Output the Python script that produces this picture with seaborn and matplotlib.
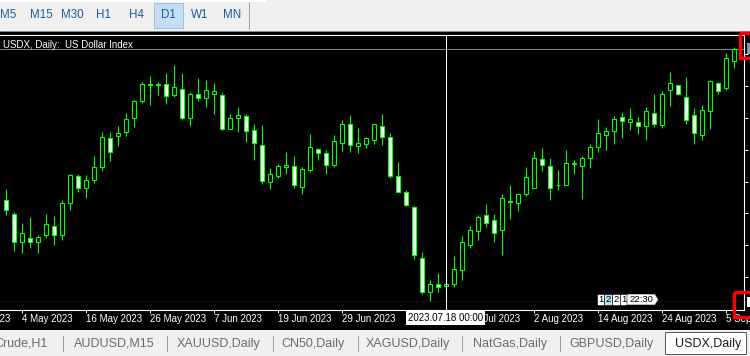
import numpy as np
import pandas as pd
import matplotlib
matplotlib.use("Agg")
import matplotlib.pyplot as plt
import seaborn as sns
from matplotlib.patches import Rectangle, Polygon

# ---------------- data (USDX daily candles) ----------------
dates = pd.bdate_range("2023-05-02", "2023-09-06")

opens = [101.99, 101.72, 101.15, 101.23, 101.17, 101.31, 101.49, 101.29, 101.93, 102.49,
         102.25, 102.41, 102.67, 103.23, 103.29, 103.37, 103.65, 103.99, 104.31, 104.31,
         104.33, 104.11, 104.23, 103.65, 104.11, 104.05, 104.13, 104.11, 103.43, 103.65,
         103.67, 103.41, 103.09, 102.37, 102.49, 102.67, 102.69, 102.27, 102.61, 103.02,
         102.93, 102.71, 103.15, 103.52, 103.09, 103.13, 103.21, 103.49, 103.27, 102.49,
         102.15, 101.86, 100.83, 100.17, 100.31, 100.28, 100.33, 100.61, 101.11, 101.39,
         101.69, 101.59, 101.41, 101.97, 101.93, 102.13, 102.25, 102.81, 102.67, 102.30,
         102.31, 102.73, 102.69, 102.85, 103.07, 103.31, 103.39, 103.65, 103.57, 103.57,
         103.49, 103.73, 103.51, 104.21, 104.29, 104.07, 103.71, 103.31, 103.79, 104.34,
         104.24, 104.79]
highs = [102.22, 101.77, 101.54, 101.66, 101.29, 101.72, 101.68, 102.00, 102.52, 102.53,
         102.50, 102.88, 103.36, 103.36, 103.48, 103.74, 104.00, 104.37, 104.48, 104.36,
         104.54, 104.70, 104.54, 104.16, 104.44, 104.40, 104.34, 104.14, 103.72, 103.86,
         103.72, 103.52, 103.50, 102.64, 102.73, 102.96, 102.88, 102.67, 103.32, 103.05,
         103.00, 103.30, 103.60, 103.70, 103.45, 103.26, 103.52, 103.72, 103.34, 102.76,
         102.20, 101.88, 100.96, 100.40, 100.54, 100.46, 100.88, 101.28, 101.49, 101.70,
         101.92, 101.72, 102.12, 102.30, 102.13, 102.66, 102.98, 103.04, 102.84, 102.60,
         103.00, 102.80, 102.88, 103.12, 103.62, 103.46, 103.69, 103.76, 103.84, 103.67,
         103.86, 104.12, 104.19, 104.56, 104.30, 104.46, 103.84, 103.90, 104.40, 104.37,
         104.94, 105.07]
lows = [101.71, 100.99, 100.93, 101.05, 100.95, 101.25, 101.11, 101.21, 101.79, 102.17,
        102.05, 102.35, 102.59, 102.78, 103.08, 103.28, 103.46, 103.94, 103.90, 104.10,
        103.92, 104.06, 103.60, 103.48, 103.99, 103.86, 103.72, 103.40, 103.42, 103.37,
        103.17, 102.80, 102.33, 102.23, 102.45, 102.52, 102.25, 102.13, 102.56, 102.80,
        102.52, 102.66, 102.98, 102.96, 102.93, 103.05, 103.13, 103.10, 102.45, 102.16,
        101.89, 100.83, 100.12, 99.98, 100.15, 100.00, 100.27, 100.41, 101.04, 101.20,
        101.47, 101.16, 100.90, 101.62, 101.78, 102.08, 102.24, 102.58, 102.00, 102.20,
        102.30, 102.52, 102.03, 102.64, 102.96, 103.01, 103.13, 103.25, 103.41, 103.33,
        103.21, 103.47, 103.44, 103.89, 104.11, 103.53, 103.13, 103.21, 103.42, 104.13,
        104.21, 104.64]
closes = [101.79, 101.17, 101.33, 101.15, 101.27, 101.51, 101.31, 101.93, 102.49, 102.25,
          102.41, 102.65, 103.27, 102.97, 103.35, 103.63, 103.99, 104.31, 104.30, 104.30,
          104.09, 104.27, 103.65, 104.12, 104.05, 104.19, 104.18, 103.43, 103.65, 103.71,
          103.39, 103.15, 102.39, 102.51, 102.67, 102.71, 102.31, 102.61, 103.07, 102.95,
          102.71, 103.18, 103.52, 103.11, 103.14, 103.24, 103.51, 103.27, 102.49, 102.17,
          101.91, 100.91, 100.15, 100.33, 100.27, 100.31, 100.63, 101.16, 101.39, 101.65,
          101.55, 101.35, 102.03, 101.96, 102.12, 102.46, 102.84, 102.71, 102.25, 102.29,
          102.75, 102.74, 102.85, 103.07, 103.33, 103.39, 103.62, 103.59, 103.62, 103.49,
          103.77, 103.53, 104.13, 104.34, 104.13, 103.61, 103.35, 103.79, 104.38, 104.19,
          104.85, 105.03]

tick_dates = ["2023-05-04", "2023-05-16", "2023-05-26", "2023-06-07", "2023-06-19",
              "2023-06-29", "2023-07-11", "2023-07-21", "2023-08-02", "2023-08-14",
              "2023-08-24", "2023-09-05"]
tick_labels = ["4 May 2023", "16 May 2023", "26 May 2023", "7 Jun 2023", "19 Jun 2023",
               "29 Jun 2023", "11 Jul 2023", "21 Jul 2023", "2 Aug 2023", "14 Aug 2023",
               "24 Aug 2023", "5 Sep 2023"]
early_label = "24 Apr 2023"           # label 6 bars before the first visible bar
price_ticks = [104.93, 104.29, 103.65, 103.01, 102.37, 101.74, 101.10, 100.46]
cross_date = "2023-07-18"
cross_label = "2023.07.18 00:00"
title = "USDX, Daily:  US Dollar Index"
toolbar = ["M5", "M15", "M30", "H1", "H4", "D1", "W1", "MN"]
active_period = "D1"
tabs = ["Crude,H1", "AUDUSD,M15", "XAUUSD,Daily", "CN50,Daily", "XAGUSD,Daily",
        "NatGas,Daily", "GBPUSD,Daily", "USDX,Daily"]
timer_boxes = ["1", "2", "2", "1", "22:30"]

# ---------------- styling ----------------
sns.set_theme(style="dark", rc={"axes.facecolor": "black", "figure.facecolor": "black"})
plt.rcParams["font.family"] = ["Liberation Sans", "DejaVu Sans"]
GREEN = "#00FF00"
PX = 0.72  # one pixel in points

W, H = 750, 356
fig = plt.figure(figsize=(7.5, 3.56), dpi=100)
fig.patch.set_facecolor("black")


def fy(py):
    return 1 - py / H


ax = fig.add_axes([0, fy(302), 744 / W, (302 - 34.5) / H])
ax_t = fig.add_axes([0, fy(310), 744 / W, 8 / H], sharex=ax)

df = pd.DataFrame({"date": dates, "open": opens, "high": highs, "low": lows, "close": closes})
df["idx"] = np.arange(len(df))
df["bull"] = df["close"] >= df["open"]
df["body_lo"] = np.minimum(df["open"], df["close"])
df["height"] = np.maximum((df["close"] - df["open"]).abs(), 0.012)

# wicks
ax.vlines(df["idx"], df["low"], df["high"], color=GREEN, lw=PX * 1.1, zorder=1)
# bodies
sns.barplot(data=df, x="idx", y="height", native_scale=True, errorbar=None,
            color="black", width=0.5, bottom=df["body_lo"].to_numpy(),
            facecolor=np.where(df["bull"], "black", "white").tolist(),
            edgecolor=GREEN, linewidth=PX * 1.1, ax=ax, zorder=2)
for p, b in zip(ax.patches, df["bull"]):
    p.set_facecolor("black" if b else "white")

ax.set_xlabel("")
ax.set_ylabel("")
ax.grid(False)
ax.set_facecolor("black")
ax.set_ylim(99.96, 105.31)
ax.set_xlim(-5.5 / 8, (744 - 5.5) / 8)

# bid line + price label
ax.axhline(closes[-1], color="#778899", lw=PX, zorder=0.5)
ax.add_patch(Rectangle((1.0035, closes[-1] - 0.11), 0.02, 0.22, transform=ax.get_yaxis_transform(),
                       facecolor="#8496aa", edgecolor="none", clip_on=False, zorder=5))

for s in ["top", "bottom", "right"]:
    ax.spines[s].set_color("white")
    ax.spines[s].set_linewidth(PX * 1.1)
ax.spines["left"].set_visible(False)
ax.tick_params(axis="x", bottom=False, labelbottom=False)
ax.yaxis.tick_right()
ax.set_yticks(price_ticks)
ax.tick_params(axis="y", right=True, left=False, direction="out", length=3, width=PX,
               color="white", labelright=False, labelleft=False)

# time scale
ax_t.set_facecolor("black")
ax_t.set_yticks([])
for s in ["top", "left"]:
    ax_t.spines[s].set_visible(False)
for s in ["bottom", "right"]:
    ax_t.spines[s].set_color("white")
    ax_t.spines[s].set_linewidth(PX * 1.1)
pos = [dates.get_loc(pd.Timestamp(d)) for d in tick_dates]
ax_t.set_xticks(pos)
ax_t.set_xticklabels(tick_labels, ha="left")
ax_t.tick_params(axis="x", bottom=True, direction="out", length=2.2, width=PX, colors="white",
                 labelsize=7, pad=1.0)
ax_t.set_xlim(-5.5 / 8, (744 - 5.5) / 8)
ax_t.text(pos[0] - 8, -0.55, early_label, transform=ax_t.get_xaxis_transform(), ha="left",
          va="top", color="white", fontsize=7, clip_on=False)

# crosshair
ci = dates.get_loc(pd.Timestamp(cross_date))
ax.axvline(ci, color="white", lw=PX, zorder=4)
ax_t.axvline(ci, color="white", lw=PX, zorder=4)
ax_t.text(ci, -1.0, cross_label, transform=ax_t.get_xaxis_transform(), ha="center", va="center",
          fontsize=7, color="black", zorder=6, clip_on=False,
          bbox=dict(boxstyle="square,pad=0.2", fc="white", ec="none"))

# ---------------- overlay (window chrome) ----------------
ov = fig.add_axes([0, 0, 1, 1], zorder=10)
ov.set_xlim(0, W)
ov.set_ylim(H, 0)
ov.axis("off")
ov.patch.set_alpha(0)

# toolbar
ov.add_patch(Rectangle((0, 0), W, 30.5, fc="#F0F0F0", ec="none"))
ov.add_patch(Rectangle((0, 0), 266, 1.5, fc="white", ec="none"))
ov.plot([0, W], [30.5, 30.5], color="#8a8a8a", lw=PX)
ov.add_patch(Rectangle((153.5, 2.5), 29, 25, fc="#C6DEF3", ec="#92C5EE", lw=PX))
tb_x = [8.5, 41, 72.5, 103.5, 137, 168, 199.5, 232.5]
for lab, x in zip(toolbar, tb_x):
    ov.text(x, 15.5, lab, ha="center", va="center", fontsize=8.4, color="#1F5C9E")
ov.plot([248.5, 248.5], [2, 29], color="#A0A0A0", lw=PX)

# title
ov.text(3, 45, title, ha="left", va="center", fontsize=7, color="white")

# timer boxes
bx = [(597, 604), (604, 612), (612, 620), (620, 627)]
fills = ["white", "#B9E3EE", "white", "white"]
for (a, b), lab, fc in zip(bx, timer_boxes[:4], fills):
    ov.add_patch(Rectangle((a, 294), b - a, 11, fc=fc, ec="black", lw=0.4, zorder=3))
    ov.text((a + b) / 2, 299.8, lab, ha="center", va="center", fontsize=6.8, color="black", zorder=4)
ov.add_patch(Polygon([(627, 294), (655, 294), (658.5, 299.5), (655, 305), (627, 305)],
                     closed=True, fc="white", ec="black", lw=0.4, zorder=3))
ov.text(641.5, 299.8, timer_boxes[4], ha="center", va="center", fontsize=6.8, color="black", zorder=4)

# red annotation rectangles
ov.add_patch(Rectangle((740.3, 33), 25, 25.2, fill=False, ec="#FF0000", lw=2.5, zorder=6))
ov.add_patch(Rectangle((747, 297), 4, 10, fc="white", ec="none", zorder=5))
ov.add_patch(Rectangle((733.5, 291.8), 30, 25.4, fill=False, ec="#FF0000", lw=2.5, zorder=6))

# tabs
ov.add_patch(Rectangle((0, 329.5), W, 27, fc="#F0F0F0", ec="none"))
ov.add_patch(Rectangle((664.5, 331.5), 81, 22, fc="white", ec="#5a5a5a", lw=PX))
tab_x = [48, 114, 218.5, 313.5, 408, 510, 611.5, 708.5]
for i, (lab, x) in enumerate(zip(tabs, tab_x)):
    active = i == len(tabs) - 1
    ov.text(x, 343.5, lab, ha="right" if i == 0 else "center", va="center", fontsize=9,
            color="#1a1a1a" if active else "#6B6B6B")
for x in [62.5, 166.5, 272.5, 357.5, 461.5, 559.5]:
    ov.plot([x, x], [336, 351], color="#9C9C9C", lw=PX)

fig.savefig("out.png", dpi=100, facecolor="black")
